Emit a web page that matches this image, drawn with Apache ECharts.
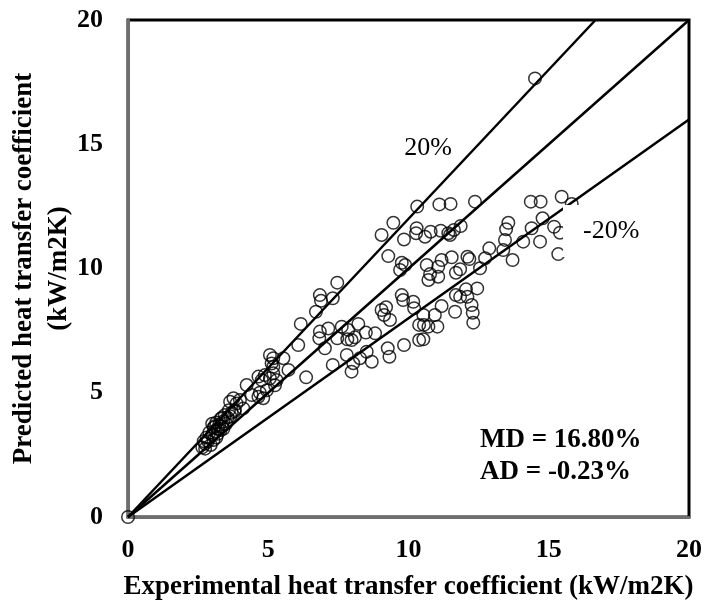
<!DOCTYPE html>
<html>
<head>
<meta charset="utf-8">
<script src="https://cdn.jsdelivr.net/npm/echarts@6/dist/echarts.min.js"></script>
<style>
  html, body { margin: 0; padding: 0; background: #fff; }
  #chart { width: 705px; height: 607px; }
</style>
</head>
<body>
<div id="chart"></div>
<script>
// experimental (x) vs predicted (y) heat transfer coefficient, kW/m2K
var expHTC = [
  0,
  2.65, 2.75, 2.75, 2.85, 2.95, 3.05, 2.80, 3.00, 3.15, 2.70, 2.90, 3.10, 3.20, 3.30, 3.05, 3.25, 3.35, 3.15, 3.40,
  3.50, 3.30, 3.55, 3.45, 3.65, 3.70, 3.60, 3.80, 3.20, 3.10, 3.40, 3.35, 3.00,
  3.64, 3.76, 3.87, 3.99, 4.11, 3.81, 4.23, 4.41, 4.65, 4.82, 4.65, 4.77, 4.88, 5.06, 5.18, 5.30, 4.95, 5.24, 4.70,
  5.06, 5.12, 5.18, 5.54, 5.18, 5.72, 6.35,
  7.46, 6.84, 6.88, 7.30, 6.70, 6.16, 6.07, 6.84, 6.82, 7.14, 7.02, 7.46, 7.62, 7.85, 7.82, 7.97, 8.21, 8.48, 8.81,
  8.09, 7.80, 8.27, 8.51, 8.69, 8.03, 7.97, 7.30, 9.26, 9.32, 9.84, 9.04, 9.13, 9.34, 9.20, 9.76, 9.81, 10.17, 10.20,
  10.38, 10.38, 9.28, 9.76, 9.88, 9.70,
  10.31, 11.10, 11.50, 12.37, 14.36, 14.71, 15.46, 15.82, 14.51, 9.46, 9.04, 9.84, 10.29, 10.27, 10.59, 10.79, 11.15,
  11.42, 11.62, 11.48, 11.86, 13.56, 13.48, 14.39, 14.78, 15.19, 15.40, 14.09, 14.69, 15.34, 10.65, 11.18, 11.06,
  10.77, 10.71, 11.06, 11.54, 12.10, 12.17, 11.84, 11.69, 12.05, 12.45, 12.10, 11.84, 12.55, 12.73, 12.88, 13.38,
  13.44, 13.71, 10.53, 10.94, 11.18, 10.55, 10.71, 11.03, 11.66, 11.69, 12.25, 12.29, 12.31, 10.53
];
var predHTC = [
  0,
  2.80, 2.75, 2.95, 3.05, 2.90, 3.10, 3.20, 3.30, 3.20, 3.05, 3.40, 3.45, 3.35, 3.50, 3.60, 3.70, 3.65, 3.80, 3.85,
  3.75, 3.95, 4.00, 4.10, 4.05, 4.20, 4.30, 4.25, 3.55, 3.65, 3.55, 4.00, 3.75,
  4.64, 4.78, 4.57, 4.71, 4.37, 4.31, 5.31, 4.91, 4.84, 4.78, 5.65, 5.51, 5.71, 5.58, 5.78, 5.51, 5.10, 5.30, 5.00,
  6.52, 6.18, 6.39, 6.39, 6.05, 5.92, 5.62,
  9.43, 8.93, 8.70, 8.80, 8.26, 7.77, 6.92, 7.46, 7.19, 7.59, 6.79, 7.19, 7.66, 7.53, 7.15, 7.12, 7.77, 7.42, 7.39,
  7.23, 6.52, 6.39, 6.65, 6.25, 6.19, 5.85, 6.12, 6.79, 6.45, 6.92, 8.33, 8.13, 7.93, 8.44, 8.93, 8.73, 8.66, 8.40,
  7.73, 7.12, 10.50, 10.23, 10.14, 9.94,
  12.49, 12.58, 12.60, 12.69, 12.69, 12.69, 12.89, 12.60, 17.65, 11.84, 11.35, 11.17, 11.62, 11.42, 11.28, 11.48, 11.52,
  11.42, 11.55, 11.35, 11.71, 11.84, 11.58, 11.62, 12.02, 11.68, 11.44, 11.08, 11.08, 10.58, 10.14, 10.34, 10.07,
  9.78, 9.54, 9.67, 10.45, 10.47, 10.38, 9.97, 9.83, 9.16, 9.20, 8.86, 8.86, 10.01, 10.41, 10.81, 10.74,
  11.15, 10.34, 8.13, 8.13, 8.49, 7.73, 7.66, 7.66, 8.26, 8.93, 8.53, 8.22, 7.82, 7.15
];
// y = r * x guide lines (+20%, parity, -20%)
var bandRatios = [1.2, 1.0, 0.8];
var axisMin = 0;
var axisMax = 20;
var axisStep = 5;

var serif = '"Liberation Serif", "Times New Roman", serif';
var chart = echarts.init(document.getElementById('chart'));

var points = expHTC.map(function (x, i) { return [x, predHTC[i]]; });

var series = [{
  type: 'scatter',
  data: points,
  symbol: 'circle',
  symbolSize: 12.5,
  itemStyle: { color: 'rgba(255,255,255,0)', borderColor: '#000', borderWidth: 1.5 },
  z: 3
}];
bandRatios.forEach(function (r) {
  var xEnd = Math.min(axisMax, axisMax / r);
  series.push({
    type: 'line',
    data: [[0, 0], [xEnd, xEnd * r]],
    symbol: 'none',
    lineStyle: { color: '#000', width: 2.5 },
    silent: true,
    z: 2
  });
});

var labelFont = { fontFamily: serif, fontWeight: 'bold', fontSize: 26, color: '#000' };
var titleFont = { fontFamily: serif, fontWeight: 'bold', fontSize: 27, color: '#000' };

chart.setOption({
  animation: false,
  grid: {
    left: 128, right: 16, top: 20, bottom: 90,
    containLabel: false, outerBoundsMode: 'none',
    show: true, borderColor: '#000', borderWidth: 3
  },
  xAxis: {
    type: 'value', min: axisMin, max: axisMax, interval: axisStep,
    splitLine: { show: false },
    axisTick: { show: false },
    axisLine: { lineStyle: { color: '#6e6e6e', width: 3 } },
    axisLabel: Object.assign({ margin: 20 }, labelFont),
    name: 'Experimental heat transfer coefficient (kW/m2K)',
    nameLocation: 'middle',
    nameGap: 57,
    nameMoveOverlap: false,
    nameTextStyle: titleFont
  },
  yAxis: {
    type: 'value', min: axisMin, max: axisMax, interval: axisStep,
    splitLine: { show: false },
    axisTick: { show: false },
    axisLine: { lineStyle: { color: '#6e6e6e', width: 3 } },
    axisLabel: Object.assign({ margin: 25 }, labelFont),
    name: 'Predicted heat transfer coefficient\n(kW/m2K)',
    nameLocation: 'middle',
    nameRotate: 90,
    nameGap: 51,
    nameMoveOverlap: false,
    nameTextStyle: Object.assign({ lineHeight: 35, align: 'center' }, titleFont)
  },
  graphic: [
    { type: 'text', x: 428, y: 148, z: 100,
      style: { text: '20%', font: '26px ' + serif, fill: '#000', align: 'center', verticalAlign: 'middle' } },
    { type: 'rect', z: 100, shape: { x: 563, y: 205, width: 90, height: 52 }, style: { fill: '#fff' } },
    { type: 'text', x: 583, y: 231, z: 101,
      style: { text: '-20%', font: '26px ' + serif, fill: '#000', align: 'left', verticalAlign: 'middle' } },
    { type: 'text', x: 480, y: 440, z: 100,
      style: { text: 'MD = 16.80%', font: 'bold 27px ' + serif, fill: '#000', align: 'left', verticalAlign: 'middle' } },
    { type: 'text', x: 480, y: 472, z: 100,
      style: { text: 'AD = -0.23%', font: 'bold 27px ' + serif, fill: '#000', align: 'left', verticalAlign: 'middle' } }
  ],
  series: series
});
</script>
</body>
</html>
